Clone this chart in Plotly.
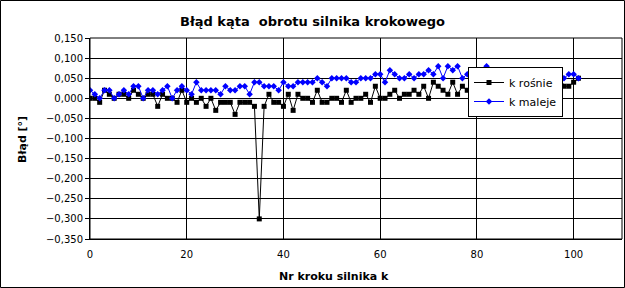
import plotly.graph_objects as go

k_steps = list(range(0, 102))

k_rosnie = [
    0.00, 0.00, -0.01, 0.02, 0.01, 0.00, 0.01, 0.01, 0.00, 0.02,
    0.01, 0.00, 0.01, 0.01, -0.02, 0.01, 0.00, 0.00, -0.01, 0.02,
    -0.01, 0.00, -0.01, 0.00, -0.02, 0.00, -0.03, -0.01, -0.01, -0.01,
    -0.04, -0.01, -0.01, -0.01, -0.02, -0.30, -0.02, 0.01, -0.01, -0.01,
    -0.02, 0.01, -0.03, 0.01, 0.00, 0.00, -0.01, 0.02, -0.01, -0.01,
    0.00, 0.00, -0.01, 0.02, -0.01, 0.00, 0.00, 0.01, -0.01, 0.03,
    0.00, 0.00, 0.01, 0.02, 0.00, 0.01, 0.01, 0.02, 0.01, 0.03,
    0.00, 0.04, 0.03, 0.02, 0.01, 0.04, 0.01, 0.03, 0.02, 0.04,
    0.03, 0.05, 0.03, 0.04, 0.02, 0.05, 0.04, 0.03, 0.05, 0.04,
    0.06, 0.03, 0.05, 0.04, 0.06, 0.05, 0.04, 0.06, 0.03, 0.03,
    0.04, 0.05,
]

k_maleje = [
    0.02, 0.01, 0.00, 0.02, 0.02, 0.00, 0.01, 0.02, 0.01, 0.03,
    0.03, 0.00, 0.02, 0.02, 0.01, 0.02, 0.03, 0.00, 0.02, 0.03,
    0.02, 0.01, 0.04, 0.02, 0.02, 0.02, 0.02, 0.01, 0.03, 0.02,
    0.02, 0.03, 0.03, 0.01, 0.04, 0.04, 0.03, 0.03, 0.03, 0.02,
    0.04, 0.03, 0.03, 0.04, 0.04, 0.04, 0.04, 0.05, 0.04, 0.03,
    0.05, 0.05, 0.05, 0.05, 0.04, 0.04, 0.05, 0.05, 0.05, 0.06,
    0.06, 0.04, 0.07, 0.06, 0.05, 0.05, 0.06, 0.05, 0.06, 0.06,
    0.07, 0.06, 0.08, 0.05, 0.08, 0.07, 0.08, 0.05, 0.06, 0.07,
    0.06, 0.07, 0.08, 0.06, 0.07, 0.07, 0.06, 0.07, 0.06, 0.07,
    0.07, 0.06, 0.07, 0.06, 0.07, 0.06, 0.06, 0.06, 0.05, 0.06,
    0.06, 0.05,
]

x_ticks = [0, 20, 40, 60, 80, 100]
y_ticks = [0.15, 0.10, 0.05, 0.0, -0.05, -0.10, -0.15, -0.20, -0.25, -0.30, -0.35]

FONT = "DejaVu Sans"
W, H = 625, 288
L, R, T, B = 90, 3, 38, 49
pw, ph = W - L - R, H - T - B

def px_x(p):
    return (p - L) / pw

def px_y(p):
    return (H - B - p) / ph

fig = go.Figure()
fig.add_trace(go.Scatter(
    x=k_steps, y=k_rosnie, name="k rośnie", mode="lines+markers",
    line=dict(color="black", width=1),
    marker=dict(symbol="square", size=5, color="black"),
))
fig.add_trace(go.Scatter(
    x=k_steps, y=k_maleje, name="k maleje", mode="lines+markers",
    line=dict(color="#0000ff", width=1),
    marker=dict(symbol="diamond", size=5, color="#0000ff"),
))

fig.update_layout(
    width=W, height=H,
    margin=dict(l=L, r=R, t=T, b=B),
    paper_bgcolor="white", plot_bgcolor="white",
    separators=", ",
    font=dict(family=FONT, size=10, color="black"),
    showlegend=True,
    legend=dict(
        x=px_x(468), y=px_y(67), xanchor="left", yanchor="top",
        bordercolor="black", borderwidth=1, bgcolor="white",
        font=dict(family=FONT, size=11, color="black"),
        itemwidth=30, tracegroupgap=0,
    ),
    xaxis=dict(
        range=[0, 110], tickvals=x_ticks,
        showgrid=True, gridcolor="black", gridwidth=1,
        zeroline=False, showline=True, linecolor="black", linewidth=1,
        ticks="outside", ticklen=6, tickcolor="rgba(0,0,0,0)",
        tickfont=dict(family=FONT, size=10),
    ),
    yaxis=dict(
        range=[-0.35, 0.15], tickvals=y_ticks, tickformat=".3f",
        showgrid=True, gridcolor="black", gridwidth=1,
        zeroline=False, showline=True, linecolor="black", linewidth=1,
        ticks="outside", ticklen=4, tickcolor="black",
        tickfont=dict(family=FONT, size=10),
    ),
    annotations=[
        dict(text="<b>Błąd kąta  obrotu silnika krokowego</b>", xref="paper", yref="paper",
             x=px_x(312), y=px_y(21), xanchor="center", yanchor="middle",
             showarrow=False, font=dict(family=FONT, size=13)),
        dict(text="<b>Nr kroku silnika k</b>", xref="paper", yref="paper",
             x=px_x(334), y=px_y(276), xanchor="center", yanchor="middle",
             showarrow=False, font=dict(family=FONT, size=11)),
        dict(text="<b>Błąd [°]</b>", xref="paper", yref="paper",
             x=px_x(22), y=px_y(140), xanchor="center", yanchor="middle",
             textangle=-90, showarrow=False, font=dict(family=FONT, size=11)),
    ],
    shapes=[
        dict(type="rect", xref="paper", yref="paper",
             x0=px_x(0.5), x1=px_x(624.5), y0=px_y(287.5), y1=px_y(0.5),
             line=dict(color="black", width=1)),
        dict(type="rect", xref="paper", yref="paper",
             x0=0, x1=1, y0=0, y1=1, line=dict(color="black", width=1)),
    ],
)

fig.write_html("out.html")
